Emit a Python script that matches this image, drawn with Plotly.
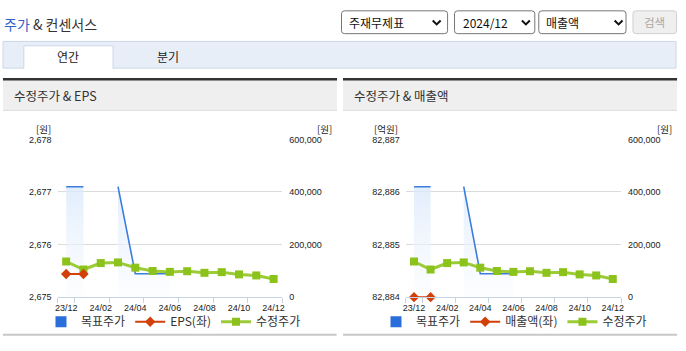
import plotly.graph_objects as go

W, H = 686, 351
def X(p): return p / W
def Y(p): return 1 - p / H

KR = "Noto Sans CJK KR"
NUM = "Liberation Sans"

months = ["23/12", "24/01", "24/02", "24/03", "24/04", "24/05", "24/06",
          "24/07", "24/08", "24/09", "24/10", "24/11", "24/12"]
tick_labels = ["23/12", "24/02", "24/04", "24/06", "24/08", "24/10", "24/12"]
adj_price = [135500, 105000, 129500, 132000, 112000, 99500, 96000,
             98500, 92500, 95000, 86500, 82500, 69000]
target_price = [420000, 420000, None, 420000, 89000, 89000, 89000,
                None, None, None, None, None, None]
eps = [2675.44, 2675.44, None, None, None, None, None,
       None, None, None, None, None, None]
revenue = [82884, 82884, None, None, None, None, None,
           None, None, None, None, None, None]
price_ticks = [0, 200000, 400000, 600000]
eps_ticks = [2675, 2676, 2677, 2678]
rev_ticks = [82884, 82885, 82886, 82887]
boundary_ticks = [-0.5, 0.5, 2.5, 4.5, 6.5, 8.5, 10.5, 12.5]
boundary_pos = [-0.5, 12.5]

BLUE = "#3b7ddd"
RED = "#d2400a"
GREEN = "#8cc21c"
GREEN_LINE = "#9bcb37"

# split target price into continuous segments (gaps break the line and fill)
segments = []
cur_x, cur_y = [], []
for m, v in zip(months, target_price):
    if v is None:
        if cur_x:
            segments.append((cur_x, cur_y))
        cur_x, cur_y = [], []
    else:
        cur_x.append(m)
        cur_y.append(v)
if cur_x:
    segments.append((cur_x, cur_y))

fig = go.Figure()

def add_chart(xa, ya_price, ya_left, xa_ticks, left_vals, left_name, legend):
    fig.add_trace(go.Scatter(x=[None], y=[None], mode="markers", name="목표주가",
                             marker=dict(symbol="square", size=11, color="#2a6edb"),
                             xaxis=xa, yaxis=ya_price, legend=legend, hoverinfo="skip"))
    for sx, sy in segments:
        fig.add_trace(go.Scatter(x=sx, y=sy, mode="lines", name="목표주가",
                                 line=dict(color=BLUE, width=1.6), fill="tozeroy",
                                 fillgradient=dict(type="vertical",
                                                   colorscale=[[0, "rgba(250,252,255,0.5)"],
                                                               [1, "rgba(218,233,251,0.8)"]]),
                                 showlegend=False, xaxis=xa, yaxis=ya_price, legend=legend))
    fig.add_trace(go.Scatter(x=months, y=left_vals, mode="lines+markers", name=left_name,
                             line=dict(color=RED, width=2),
                             marker=dict(symbol="diamond", size=8, color=RED),
                             cliponaxis=False,
                             xaxis=xa, yaxis=ya_left, legend=legend))
    fig.add_trace(go.Scatter(x=months, y=adj_price, mode="lines+markers", name="수정주가",
                             line=dict(color=GREEN_LINE, width=3),
                             marker=dict(symbol="square", size=8, color=GREEN),
                             cliponaxis=False,
                             xaxis=xa, yaxis=ya_price, legend=legend))
    fig.add_trace(go.Scatter(x=boundary_pos, y=[None, None], mode="lines", showlegend=False,
                             hoverinfo="skip", xaxis=xa_ticks, yaxis=ya_price))

add_chart("x", "y", "y2", "x3", eps, "EPS(좌)", "legend")
add_chart("x2", "y3", "y4", "x4", revenue, "매출액(좌)", "legend2")

AXIS_LINE = "#c5d3e3"
tickfont = dict(family=NUM, size=9, color="#222")

def xcat(domain, anchor):
    return dict(domain=domain, anchor=anchor, type="category", categoryorder="array",
                categoryarray=months, range=[-0.5, 12.5], tickvals=tick_labels,
                ticktext=tick_labels, ticks="", showline=True, linecolor=AXIS_LINE,
                linewidth=1, showgrid=False, zeroline=False, tickfont=tickfont,
                ticklabelstandoff=2, fixedrange=True)

def xticks(over, anchor):
    return dict(overlaying=over, anchor=anchor, type="linear", range=[-0.5, 12.5],
                tickvals=boundary_ticks, ticks="outside", ticklen=5, tickcolor=AXIS_LINE,
                showticklabels=False, showgrid=False, showline=False, zeroline=False,
                side="bottom", fixedrange=True)

ydom = [Y(300.7), Y(138.3)]

def yprice(anchor):
    return dict(domain=ydom, anchor=anchor, side="right", range=[0, 600000],
                tickvals=price_ticks, tickformat=",d", showgrid=True, gridcolor="#dcdcdc",
                gridwidth=1, zeroline=False, showline=False, tickfont=tickfont,
                ticklabelstandoff=6, fixedrange=True)

def yleft(over, anchor, rng, vals):
    return dict(overlaying=over, anchor=anchor, side="left", range=rng, tickvals=vals,
                tickformat=",d", showgrid=False, zeroline=False, showline=False,
                tickfont=tickfont, ticklabelstandoff=5, fixedrange=True)

def rrect(x0, y0, x1, y1, r, line, fill, width=1):
    p = (f"M {X(x0+r)},{Y(y0)} L {X(x1-r)},{Y(y0)} Q {X(x1)},{Y(y0)} {X(x1)},{Y(y0+r)} "
         f"L {X(x1)},{Y(y1-r)} Q {X(x1)},{Y(y1)} {X(x1-r)},{Y(y1)} "
         f"L {X(x0+r)},{Y(y1)} Q {X(x0)},{Y(y1)} {X(x0)},{Y(y1-r)} "
         f"L {X(x0)},{Y(y0+r)} Q {X(x0)},{Y(y0)} {X(x0+r)},{Y(y0)} Z")
    return dict(type="path", xref="paper", yref="paper", path=p,
                line=dict(color=line, width=width), fillcolor=fill, layer="below")

def rect(x0, y0, x1, y1, fill, line=None, width=0):
    return dict(type="rect", xref="paper", yref="paper", x0=X(x0), x1=X(x1), y0=Y(y1), y1=Y(y0),
                fillcolor=fill, line=dict(color=line or fill, width=width), layer="below")

def hline(x0, x1, y, color, width):
    return dict(type="line", xref="paper", yref="paper", x0=X(x0), x1=X(x1), y0=Y(y), y1=Y(y),
                line=dict(color=color, width=width), layer="below")

def chevron(cx, cy):
    p = f"M {X(cx-4)},{Y(cy-2)} L {X(cx)},{Y(cy+2)} L {X(cx+4)},{Y(cy-2)}"
    return dict(type="path", xref="paper", yref="paper", path=p,
                line=dict(color="#111", width=2))

shapes = [
    rrect(341.5, 6, 448.5, 29.5, 3, "#767676", "white"),
    rrect(455.5, 6, 536.5, 29.5, 3, "#767676", "white"),
    rrect(540.5, 6, 628.5, 29.5, 3, "#767676", "white"),
    rrect(635.5, 6, 679.5, 29.5, 3, "#d0d0d0", "#efefef"),
    chevron(437.5, 18), chevron(527.5, 18), chevron(621, 18),
    rect(0, 37.5, 679, 65, "#e8eef8", "#cdd8e8", 1),
    rect(21, 42, 111, 66, "white"),
    dict(type="path", xref="paper", yref="paper",
         path=f"M {X(21)},{Y(65.5)} L {X(21)},{Y(42)} L {X(111)},{Y(42)} L {X(111)},{Y(65.5)}",
         line=dict(color="#cdd8e8", width=1), layer="below"),
    rect(0, 76, 337, 108, "#efefef"),
    rect(343, 76, 680, 108, "#efefef"),
    hline(0, 337, 76.5, "#333333", 2.5),
    hline(343, 680, 76.5, "#333333", 2.5),
    hline(0, 337, 108.5, "#dddddd", 1),
    hline(343, 680, 108.5, "#dddddd", 1),
    hline(0, 336.5, 339.5, "#c8c8c8", 2),
    hline(343, 680, 339.5, "#c8c8c8", 2),
]

def txt(text, x, y, size=12, color="#333", xanchor="left", family=KR):
    return dict(text=text, x=X(x), y=Y(y), xref="paper", yref="paper", showarrow=False,
                xanchor=xanchor, yanchor="middle", font=dict(family=family, size=size, color=color))

annotations = [
    txt("<span style='color:#2d63c8'>주가</span> & 컨센서스", -1, 20, 14),
    txt("주재무제표", 347.5, 18, 12, "#111"),
    txt("2024/12", 462, 18, 12, "#111"),
    txt("매출액", 546, 18, 12, "#111"),
    txt("검색", 657.5, 18, 11.5, "#a8a8a8", "center"),
    txt("연간", 66, 52.5, 12, "#222", "center"),
    txt("분기", 166, 52.5, 12, "#222", "center"),
    txt("수정주가 & EPS", 9, 93, 12.5, "#333"),
    txt("수정주가 & 매출액", 352, 93, 12.5, "#333"),
    txt("[원]", 41, 128, 9.5, "#222", "center"),
    txt("[원]", 324, 128, 9.5, "#222", "center"),
    txt("[억원]", 386, 128, 9.5, "#222", "center"),
    txt("[원]", 667, 128, 9.5, "#222", "center"),
]

legend_common = dict(orientation="h", yanchor="middle", xanchor="center", y=Y(326),
                     font=dict(family=KR, size=12, color="#333"), bgcolor="rgba(0,0,0,0)",
                     itemwidth=30, traceorder="normal")

fig.update_layout(
    width=W, height=H, margin=dict(l=0, r=0, t=0, b=0),
    paper_bgcolor="white", plot_bgcolor="rgba(0,0,0,0)",
    showlegend=True, hovermode=False,
    xaxis=xcat([X(55), X(281.7)], "y"),
    xaxis2=xcat([X(406.3), X(623.5)], "y3"),
    xaxis3=xticks("x", "y"),
    xaxis4=xticks("x2", "y3"),
    yaxis=yprice("x"),
    yaxis2=yleft("y", "x", [2675, 2678], eps_ticks),
    yaxis3=yprice("x2"),
    yaxis4=yleft("y3", "x2", [82884, 82887], rev_ticks),
    legend=dict(x=X(172), **legend_common),
    legend2=dict(x=X(515.5), **legend_common),
    shapes=shapes, annotations=annotations,
)

fig.write_html("out.html", config={"displayModeBar": False})
